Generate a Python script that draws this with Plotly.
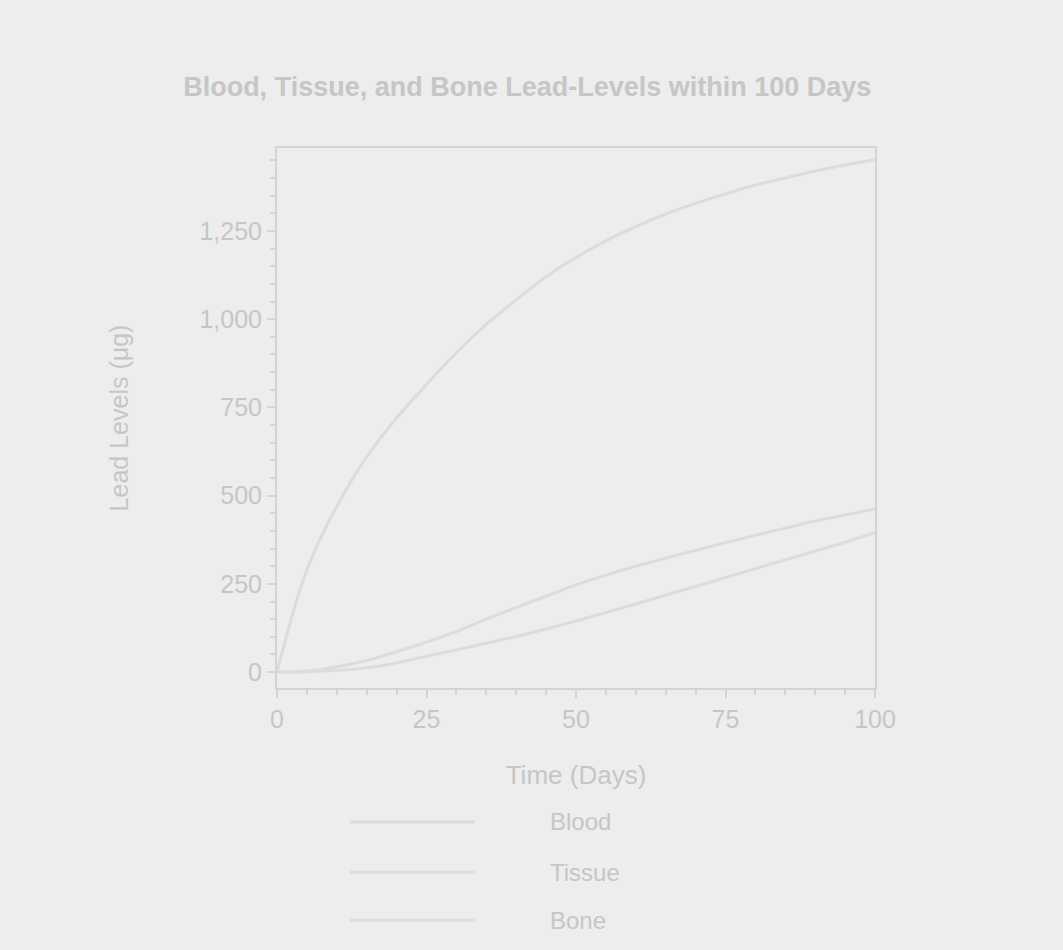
import plotly.graph_objects as go

days = [0, 5, 10, 15, 20, 25, 30, 35, 40, 45, 50, 55, 60, 65, 70, 75, 80, 85, 90, 95, 100]
blood = [0, 290, 470, 610, 720, 815, 905, 985, 1055, 1120, 1175, 1222, 1262, 1298, 1328, 1355, 1380, 1400, 1420, 1437, 1452]
tissue = [0, 3, 15, 33, 58, 85, 115, 150, 183, 215, 247, 275, 300, 323, 345, 367, 388, 408, 428, 445, 462]
bone = [0, 1, 5, 12, 26, 45, 63, 82, 101, 122, 145, 169, 193, 218, 243, 268, 293, 318, 343, 368, 395]
series_names = ["Blood", "Tissue", "Bone"]
series_values = [blood, tissue, bone]

BG = "#ededed"
TXT = "#c6c6c6"
LINE = "#dcdcdc"
AX = "#d4d4d4"
FONT = "Liberation Sans, Arial, sans-serif"

fig = go.Figure()
for name, vals in zip(series_names, series_values):
    fig.add_trace(go.Scatter(x=days, y=vals, mode="lines", name=name,
                             line=dict(color=LINE, width=3, shape="spline"),
                             showlegend=False))

# manual legend (long line samples)
leg_y = [-0.248, -0.341, -0.430]
for name, yy in zip(series_names, leg_y):
    fig.add_shape(type="line", xref="paper", yref="paper", x0=0.122, x1=0.331,
                  y0=yy, y1=yy, line=dict(color=LINE, width=3))
    fig.add_annotation(xref="paper", yref="paper", x=0.453, y=yy, text=name,
                       showarrow=False, xanchor="left", yanchor="middle",
                       font=dict(family=FONT, size=24, color=TXT))

fig.update_layout(
    width=1063, height=950,
    paper_bgcolor=BG, plot_bgcolor=BG,
    margin=dict(l=277, r=188, t=148, b=262),
    separators=".,",
    title=dict(text="<b>Blood, Tissue, and Bone Lead-Levels within 100 Days</b>",
               x=0.496, xanchor="center", y=1 - 87 / 950, yanchor="middle",
               font=dict(family=FONT, size=27, color=TXT)),
    font=dict(family=FONT, size=24, color=TXT),
)
fig.update_xaxes(range=[0, 100], tickvals=[0, 25, 50, 75, 100], showgrid=False, zeroline=False,
                 showline=True, linecolor=AX, linewidth=2, mirror=True,
                 ticks="outside", ticklen=8, tickcolor=AX, tickwidth=2,
                 minor=dict(dtick=5, ticks="outside", ticklen=5, tickcolor=AX),
                 tickfont=dict(family=FONT, size=25, color=TXT),
                 title=dict(text="Time (Days)", standoff=34,
                            font=dict(family=FONT, size=26, color=TXT)))
fig.update_yaxes(range=[-45, 1485], tickvals=[0, 250, 500, 750, 1000, 1250], tickformat=",d",
                 showgrid=False, zeroline=False,
                 showline=True, linecolor=AX, linewidth=2, mirror=True,
                 ticks="outside", ticklen=8, tickcolor=AX, tickwidth=2,
                 minor=dict(dtick=50, ticks="outside", ticklen=5, tickcolor=AX),
                 tickfont=dict(family=FONT, size=25, color=TXT),
                 title=dict(text="Lead Levels (μg)", standoff=64,
                            font=dict(family=FONT, size=25, color=TXT)))

fig.write_html("out.html", config={"displayModeBar": False},
               post_script="document.body.style.margin='0';document.body.style.padding='0';")
